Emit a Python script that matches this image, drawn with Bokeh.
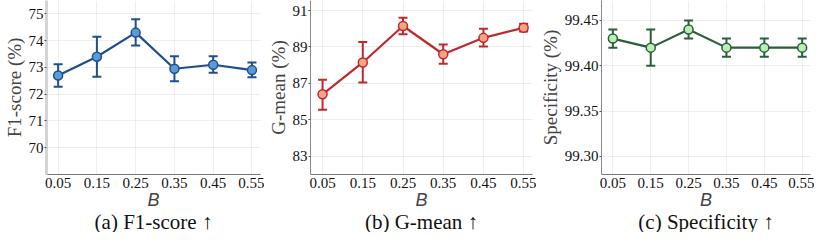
from bokeh.plotting import figure
from bokeh.layouts import row
from bokeh.models import Range1d, Title, FixedTicker, Whisker, ColumnDataSource
from bokeh.embed import file_html
from bokeh.resources import INLINE

B = [0.05, 0.15, 0.25, 0.35, 0.45, 0.55]

f1_mean = [72.70, 73.40, 74.30, 72.95, 73.10, 72.90]
f1_low = [72.28, 72.65, 73.82, 72.48, 72.80, 72.63]
f1_high = [73.12, 74.15, 74.80, 73.42, 73.42, 73.18]
f1_ticks = [70, 71, 72, 73, 74, 75]

gm_mean = [86.40, 88.15, 90.15, 88.60, 89.50, 90.05]
gm_low = [85.55, 87.05, 89.70, 88.08, 89.02, 89.85]
gm_high = [87.20, 89.27, 90.60, 89.14, 90.00, 90.28]
gm_ticks = [83, 85, 87, 89, 91]

sp_mean = [99.43, 99.42, 99.44, 99.42, 99.42, 99.42]
sp_low = [99.42, 99.40, 99.43, 99.41, 99.41, 99.41]
sp_high = [99.44, 99.44, 99.45, 99.43, 99.43, 99.43]
sp_ticks = [99.30, 99.35, 99.40, 99.45]

SERIF = "Liberation Serif"


def panel(mean, low, high, yticks, yrange, ylabel, caption, line_c, fill_c,
          width, left, fmt, left_spine_color, left_spine_w):
    p = figure(width=width, height=232, output_backend="svg", toolbar_location=None,
               x_range=Range1d(0.02, 0.572), y_range=Range1d(*yrange),
               min_border_left=left, min_border_right=4, min_border_top=0,
               min_border_bottom=0)
    p.outline_line_color = None
    src = ColumnDataSource(dict(x=B, y=mean, lo=low, hi=high))
    w = Whisker(base="x", lower="lo", upper="hi", source=src,
                line_color=line_c, line_width=2)
    for h in (w.upper_head, w.lower_head):
        h.line_color = line_c
        h.line_width = 2
        h.size = 9
    p.add_layout(w)
    p.line("x", "y", source=src, line_color=line_c, line_width=2.2)
    p.scatter("x", "y", source=src, size=9, fill_color=fill_c, line_color=line_c,
              line_width=1.5)

    for ax in (p.xaxis[0], p.yaxis[0]):
        ax.major_label_text_font = SERIF
        ax.major_label_text_font_size = "15px"
        ax.major_label_text_color = "#111111"
        ax.minor_tick_line_color = None
        ax.major_tick_in = 0
        ax.major_tick_out = 2
        ax.major_tick_line_color = "#555555"
    p.xaxis.ticker = FixedTicker(ticks=B)
    p.xaxis.major_label_overrides = {b: f"{b:.2f}" for b in B}
    p.xaxis.axis_line_color = "#777777"
    p.xaxis.axis_line_width = 1
    p.xaxis.major_tick_out = 0
    p.xaxis.major_label_standoff = 3
    p.yaxis.ticker = FixedTicker(ticks=yticks)
    p.yaxis.major_label_overrides = {t: fmt.format(t) for t in yticks}
    p.yaxis.axis_line_color = left_spine_color
    p.yaxis.axis_line_width = left_spine_w
    p.yaxis.major_label_standoff = 1

    p.xaxis.axis_label = "B"
    p.xaxis.axis_label_text_font = "Liberation Sans"
    p.xaxis.axis_label_text_font_style = "italic"
    p.xaxis.axis_label_text_font_size = "18px"
    p.xaxis.axis_label_standoff = -1
    p.yaxis.axis_label = ylabel
    p.yaxis.axis_label_text_font = SERIF
    p.yaxis.axis_label_text_font_style = "normal"
    p.yaxis.axis_label_text_font_size = "19px"
    p.yaxis.axis_label_standoff = 1

    for g in (p.xgrid[0], p.ygrid[0]):
        g.grid_line_color = "#dddddd"
        g.grid_line_dash = "1 1"
        g.grid_line_width = 1
    p.ygrid.ticker = FixedTicker(ticks=yticks)
    p.xgrid.ticker = FixedTicker(ticks=B)

    t = Title(text=caption, align="center", text_font=SERIF, text_font_size="21px",
              text_font_style="normal", text_color="#111111", standoff=-6, offset=0,
              vertical_align="top")
    p.add_layout(t, "below")
    return p


p1 = panel(f1_mean, f1_low, f1_high, f1_ticks, (69.0, 75.5), "F1-score (%)",
           "(a) F1-score \u2191", "#1f4e8c", "#5b9bd5", 264, 34, "{:.0f}", "#d4d4d4", 3)
p2 = panel(gm_mean, gm_low, gm_high, gm_ticks, (82.0, 91.55), "G-mean (%)",
           "(b) G-mean \u2191", "#c0282f", "#f4a582", 272, 38, "{:.0f}", "#888888", 1)
p3 = panel(sp_mean, sp_low, sp_high, sp_ticks, (99.28, 99.472), "Specificity (%)",
           "(c) Specificity \u2191", "#2a5e3c", "#b9f0b2", 278, 42, "{:.2f}", "#888888", 1)

p = row(p1, p2, p3)
open("out.html", "w").write(file_html(p, INLINE))
